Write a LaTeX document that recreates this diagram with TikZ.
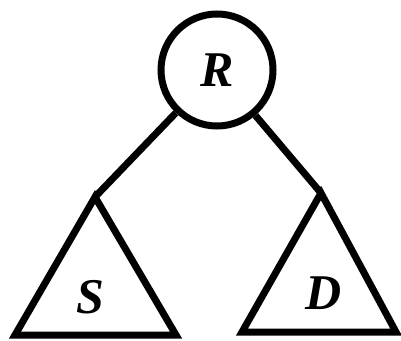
\documentclass[tikz,border=0pt]{standalone}
\usepackage{fontspec}
\setmainfont{Liberation Serif}
\usetikzlibrary{positioning}
\def\lbl#1{\textbf{\textit{#1}}}

\begin{document}
\begin{tikzpicture}[x=1pt,y=-1pt,line width=7pt,
    every node/.style={font=\fontsize{50}{50}\selectfont}]
    \useasboundingbox (0,0) rectangle (401,340);

    % root
    \node[draw,circle,minimum size=112pt,inner sep=0pt] (R) at (217,70) {\lbl{R}};

    % left subtree
    \begin{scope}
        \coordinate (Stop) at (95,197);
        \coordinate (Sleft) at (15,335);
        \coordinate (Sright) at (176,335);
        \draw (Stop) -- (Sleft) -- (Sright) -- cycle;
        \node (S) at (90,297) {\lbl{S}};
        \draw (R) -- (Stop);
    \end{scope}

    % right subtree
    \begin{scope}
        \coordinate (Dtop) at (321,193);
        \coordinate (Dleft) at (242,332);
        \coordinate (Dright) at (396,332);
        \draw (Dtop) -- (Dleft) -- (Dright) -- cycle;
        \node (D) at (324,293) {\lbl{D}};
        \draw (R) -- (Dtop);
    \end{scope}

\end{tikzpicture}
\end{document}
